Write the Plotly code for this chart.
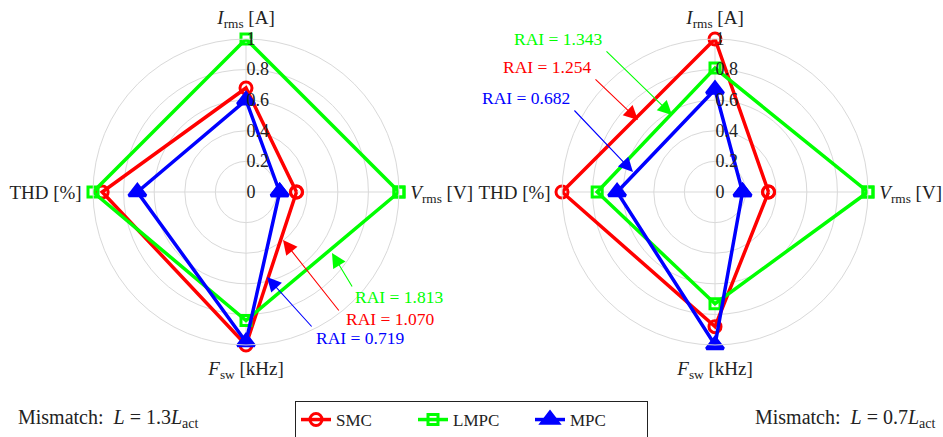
import plotly.graph_objects as go

# axes order: V_rms (0°), I_rms (90°), THD (180°), F_sw (270°)
axis_labels = ["<i>V</i><sub>rms</sub> [V]", "<i>I</i><sub>rms</sub> [A]", "THD [%]", "<i>F</i><sub>sw</sub> [kHz]"]
axis_angles = [0, 90, 180, 270]

series_names = ["SMC", "LMPC", "MPC"]
# left chart: mismatch L = 1.3 L_act   [V_rms, I_rms, THD, F_sw]
left_smc = [0.33, 0.68, 0.94, 1.0]
left_lmpc = [1.0, 1.0, 1.0, 0.84]
left_mpc = [0.22, 0.60, 0.71, 0.98]
# right chart: mismatch L = 0.7 L_act
right_smc = [0.35, 1.0, 1.0, 0.88]
right_lmpc = [1.0, 0.81, 0.77, 0.73]
right_mpc = [0.18, 0.67, 0.64, 1.0]

left_rai = ["RAI = 1.070", "RAI = 1.813", "RAI = 0.719"]
right_rai = ["RAI = 1.254", "RAI = 1.343", "RAI = 0.682"]

radial_ticks = [0, 0.2, 0.4, 0.6, 0.8, 1]
radial_ticktext = ["0", "0.2", "0.4", "0.6", "0.8", "1"]

colors = ["#ff0000", "#00ff00", "#0000ff"]
symbols = ["circle-open", "square-open", "triangle-up"]
msizes = [12, 10, 15]

FONT = "Liberation Serif"
W, H = 943, 437

fig = go.Figure()

def close(v):
    return list(v) + [v[0]]

theta_closed = close(axis_angles)
for pi, (polar, data) in enumerate([("polar", [left_smc, left_lmpc, left_mpc]),
                                    ("polar2", [right_smc, right_lmpc, right_mpc])]):
    for si, vals in enumerate(data):
        fig.add_trace(go.Scatterpolar(
            r=close(vals), theta=theta_closed, mode="lines+markers",
            name=series_names[si], subplot=polar, showlegend=(pi == 0),
            line=dict(color=colors[si], width=3.5),
            marker=dict(symbol=symbols[si], size=msizes[si], color=colors[si],
                        line=dict(color=colors[si], width=3)),
            cliponaxis=False,
        ))

grid = "#d9d9d9"
def polar_layout(cx):
    R = 153
    cy = 192
    return dict(
        domain=dict(x=[(cx - R) / W, (cx + R) / W], y=[(H - cy - R) / H, (H - cy + R) / H]),
        bgcolor="rgba(0,0,0,0)",
        radialaxis=dict(range=[0, 1], tickvals=radial_ticks, ticktext=radial_ticktext,
                        angle=90, tickangle=90, side="clockwise", showline=False,
                        gridcolor=grid, gridwidth=1,
                        ticks="", tickfont=dict(family=FONT, size=18, color="#222")),
        angularaxis=dict(tickmode="array", tickvals=axis_angles, ticktext=axis_labels,
                         direction="counterclockwise", rotation=0, showline=True,
                         linecolor=grid, linewidth=1, gridcolor=grid,
                         ticks="outside", ticklen=7, tickcolor="rgba(0,0,0,0)",
                         tickfont=dict(family=FONT, size=19, color="#222")),
    )

fig.update_layout(polar=polar_layout(246), polar2=polar_layout(715))

annotations = []
def px(x, y):
    return x / W, 1 - y / H

def arrow(tip, tail, color):
    x, y = px(*tip)
    annotations.append(dict(x=x, y=y, xref="paper", yref="paper", text="",
                            showarrow=True, ax=tail[0] - tip[0], ay=tail[1] - tip[1],
                            axref="pixel", ayref="pixel", arrowhead=2, arrowsize=2.6,
                            arrowwidth=1.1, arrowcolor=color))

def label(pos, text, color, size=17.5):
    x, y = px(*pos)
    annotations.append(dict(x=x, y=y, xref="paper", yref="paper", text=text,
                            showarrow=False, font=dict(family=FONT, size=size, color=color),
                            xanchor="center", yanchor="middle"))

# left chart annotations
label((399, 297), left_rai[1], colors[1])
arrow((332, 253), (353, 288), colors[1])
label((390, 319), left_rai[0], colors[0])
arrow((283, 240), (340, 312), colors[0])
label((360, 338), left_rai[2], colors[2])
arrow((267, 277), (313, 328), colors[2])

# right chart annotations
label((558, 39), right_rai[1], colors[1])
arrow((672, 115), (605, 50), colors[1])
label((547, 67), right_rai[0], colors[0])
arrow((638, 120), (594, 78), colors[0])
label((526, 98), right_rai[2], colors[2])
arrow((633, 172), (573, 109), colors[2])

label((108, 418), "Mismatch:&nbsp;&nbsp;<i>L</i> = 1.3<i>L</i><sub>act</sub>", "#222", 20)
label((845, 418), "Mismatch:&nbsp;&nbsp;<i>L</i> = 0.7<i>L</i><sub>act</sub>", "#222", 20)

fig.update_layout(
    width=W, height=H, margin=dict(l=0, r=0, t=0, b=0, autoexpand=False),
    paper_bgcolor="white", plot_bgcolor="white",
    font=dict(family=FONT, size=18, color="#222"),
    annotations=annotations,
    legend=dict(orientation="h", x=0.5, xanchor="center", y=(H - 401) / H, yanchor="top",
                bordercolor="#222", borderwidth=1, bgcolor="white",
                font=dict(family=FONT, size=17, color="#222"),
                itemwidth=30, tracegroupgap=0, entrywidth=72, entrywidthmode="pixels"),
)

fig.write_html("out.html", config={"displayModeBar": False},
               post_script="document.body.style.margin='0';document.body.style.overflow='hidden';")
